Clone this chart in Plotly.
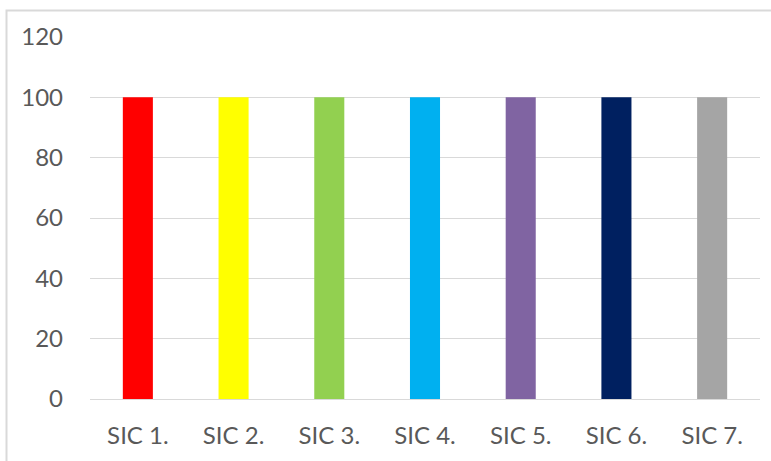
import plotly.graph_objects as go

categories = ["SIC 1.", "SIC 2.", "SIC 3.", "SIC 4.", "SIC 5.", "SIC 6.", "SIC 7."]
values = [100, 100, 100, 100, 100, 100, 100]
colors = ["#FF0000", "#FFFF00", "#92D050", "#00B0F0", "#8064A2", "#002060", "#A5A5A5"]
y_ticks = [0, 20, 40, 60, 80, 100, 120]

W, H = 771, 461
L, R, T, B = 90, 11, 37, 62
pw, ph = W - L - R, H - T - B

fig = go.Figure(go.Bar(x=categories, y=values, marker=dict(color=colors, line=dict(width=0)),
                       width=0.314))

font = dict(family="Lato, 'Open Sans', sans-serif", size=24, color="#595959")
fig.update_layout(
    width=W, height=H, margin=dict(l=L, r=R, t=T, b=B),
    paper_bgcolor="white", plot_bgcolor="white", showlegend=False,
    font=font,
    xaxis=dict(showgrid=False, showline=False, ticks="", ticklabelstandoff=20, tickfont=font),
    yaxis=dict(range=[0, 120], tickvals=y_ticks, showgrid=True, gridcolor="#D9D9D9", gridwidth=1,
               zeroline=True, zerolinecolor="#D9D9D9", zerolinewidth=1, showline=False,
               ticks="", ticklabelstandoff=26, tickfont=font),
    shapes=[dict(type="rect", xref="paper", yref="paper",
                 x0=(6.5 - L) / pw, x1=(800 - L) / pw,
                 y0=-0.3, y1=1 + (T - 10.5) / ph,
                 line=dict(color="#D9D9D9", width=2), layer="below")],
)
fig.write_html("out.html")
